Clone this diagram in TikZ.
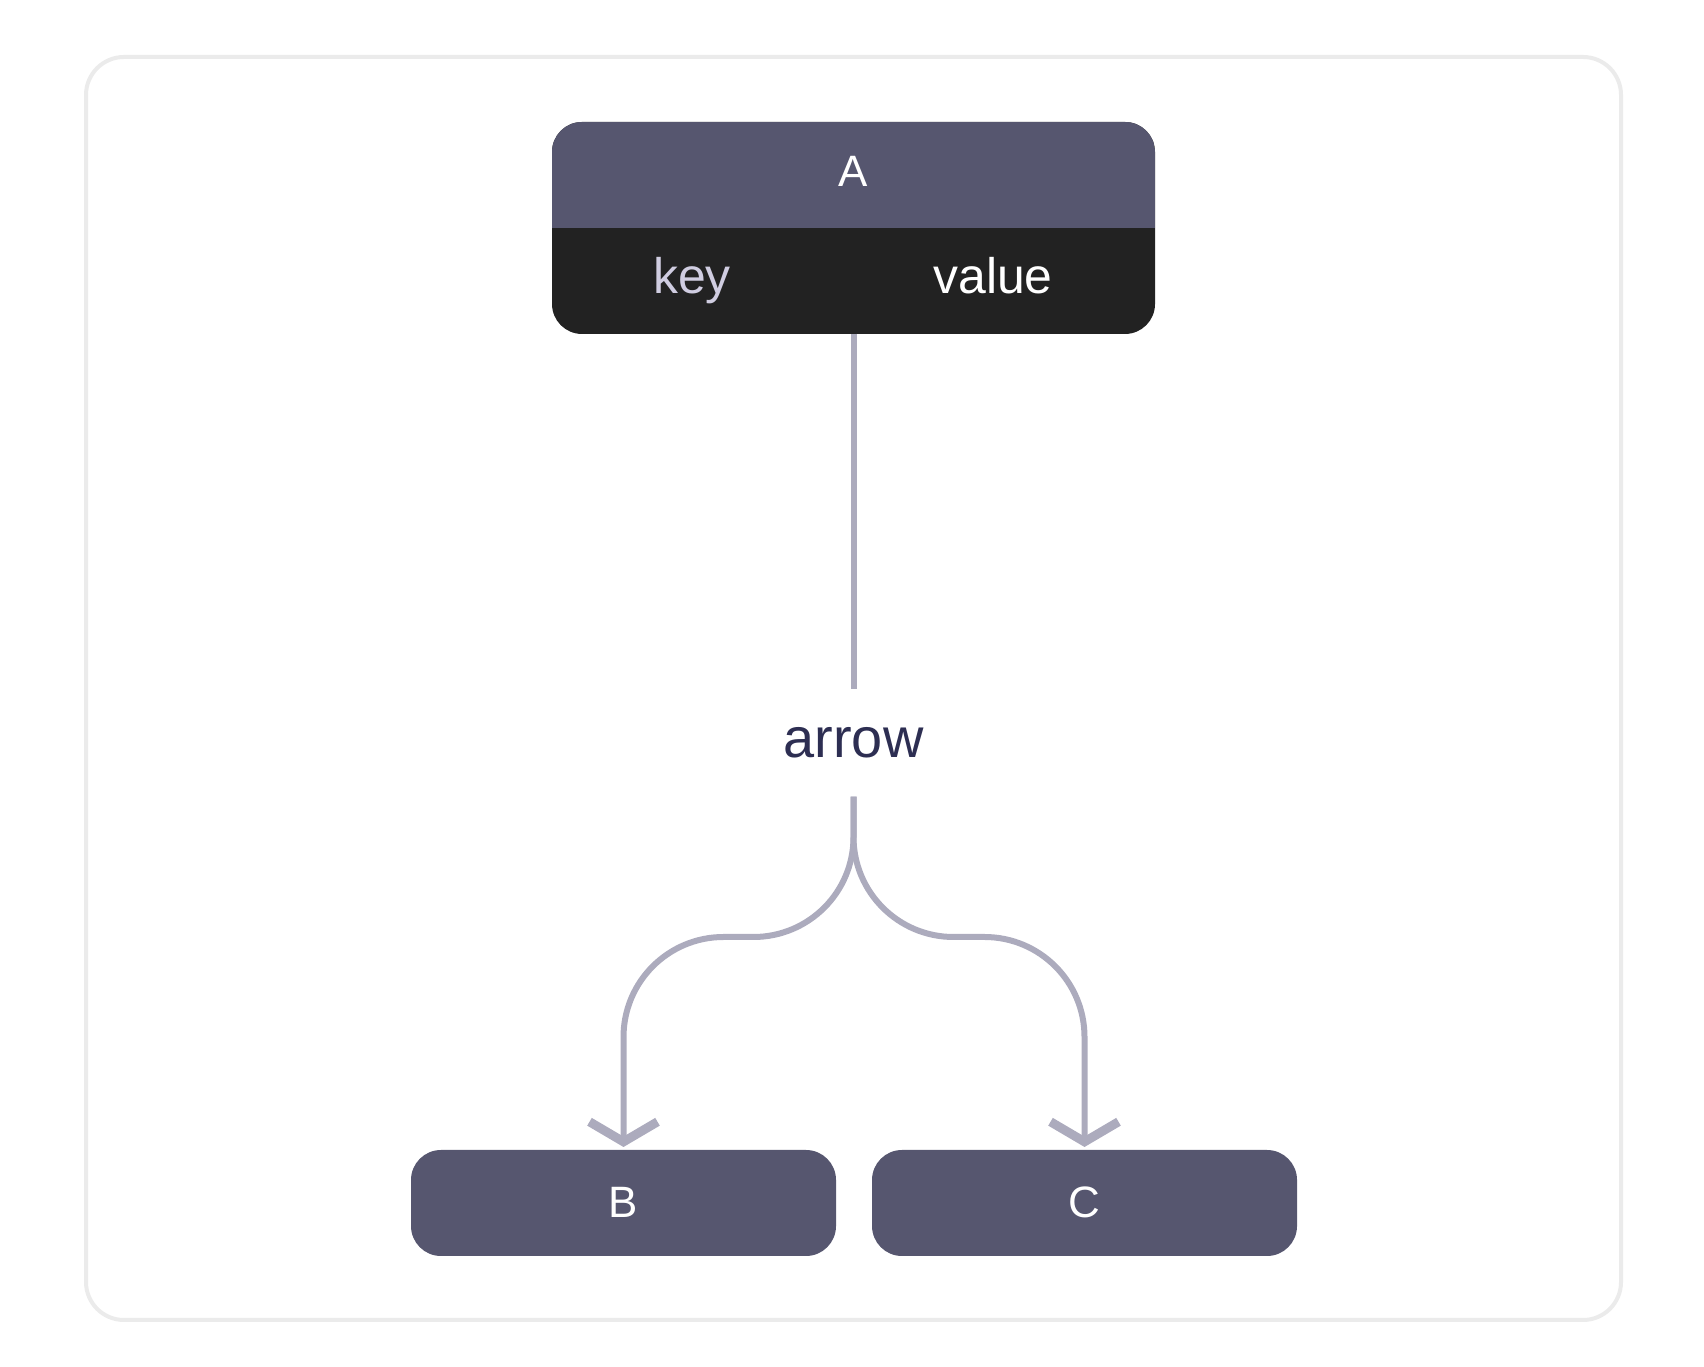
\documentclass[tikz,border=0pt]{standalone}
\usepackage{fontspec}
\setmainfont{Liberation Sans}
\usetikzlibrary{arrows.meta}

\definecolor{hdr}{HTML}{56566F}
\definecolor{rowbg}{HTML}{222222}
\definecolor{keyfg}{HTML}{D0CDE1}
\definecolor{linefg}{HTML}{ACABBD}
\definecolor{labelfg}{HTML}{2D2E52}
\definecolor{framefg}{HTML}{EBEBEB}

\begin{document}
\begin{tikzpicture}
  [entity/.style={rectangle,rounded corners=.3cm,inner sep=0pt,outer sep=0pt,text=white,
     font=\fontsize{12.5}{15}\selectfont,text height=.3cm,text depth=0pt},
   field/.style={inner sep=0pt,font=\fontsize{14.2}{17}\selectfont},
   conn/.style={draw=linefg,line width=.06cm},
   tip/.style={-{Straight Barb[length=.2cm,width=.68cm,line width=.09cm]},shorten >=.03cm}]
  \useasboundingbox (0,0) rectangle (17.04,13.66);
  \draw[framefg,line width=.04cm,rounded corners=.38cm] (0.86,0.46) rectangle (16.21,13.09);

  % table A
  \node[entity,fill=rowbg,minimum width=6.03cm,minimum height=2.12cm] (A) at (8.535,11.38) {};
  \begin{scope}
    \clip[rounded corners=.3cm] (A.south west) rectangle (A.north east);
    \fill[hdr] (A.west) rectangle (A.north east);
  \end{scope}
  \node[field,anchor=base,text=white,font=\fontsize{12.5}{15}\selectfont] (Aname) at (8.535,11.79) {A};
  \node[field,anchor=base,text=keyfg] (Akey) at (6.92,10.72) {key};
  \node[field,anchor=base,text=white] (Aval) at (9.93,10.72) {value};

  \node[entity,fill=hdr,minimum width=4.25cm,minimum height=1.06cm] (B) at (6.235,1.63) {B};
  \node[entity,fill=hdr,minimum width=4.25cm,minimum height=1.06cm] (C) at (10.845,1.63) {C};

  \node[text=labelfg,font=\fontsize{15.9}{19}\selectfont,text height=.3cm,text depth=0pt,
    inner xsep=0pt,inner ysep=.38cm] (lbl) at (8.535,6.23) {arrow};
  \coordinate (split) at (8.535,4.29);

  \draw[conn] (A) -- (lbl);
  \foreach \to in {B,C}
  \draw[conn,tip,rounded corners=1cm] (lbl) -- (split) -| (\to);
\end{tikzpicture}
\end{document}
